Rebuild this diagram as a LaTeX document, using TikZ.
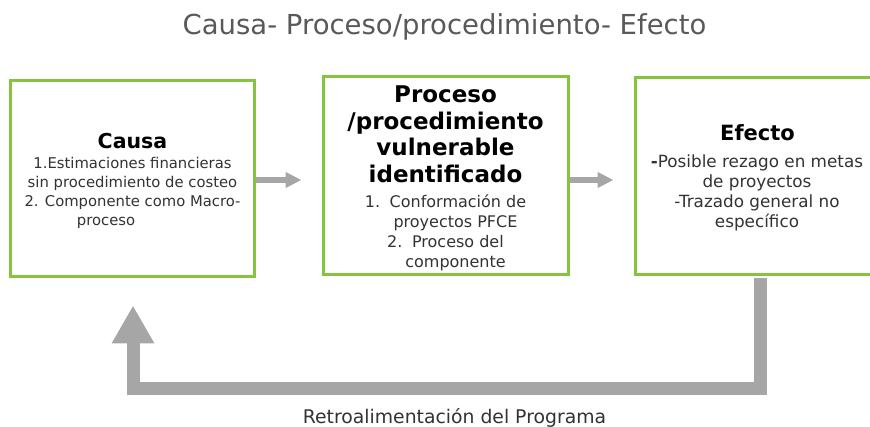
\documentclass[tikz,border=0pt]{standalone}
\usepackage{fontspec}
\setmainfont{DejaVu Sans}
\usetikzlibrary{arrows.meta}
\definecolor{boxgreen}{RGB}{134,196,64}
\definecolor{arrowgray}{RGB}{166,166,166}
\definecolor{titlegray}{RGB}{89,89,89}
\definecolor{bodygray}{RGB}{51,51,51}
\tikzset{
  stagebox/.style={draw=boxgreen, line width=3pt, fill=white, rectangle, inner sep=0pt},
  flow/.style={draw=arrowgray, line width=6pt, shorten >=20pt, -{Triangle[width=15pt,length=16pt]}},
  feedback/.style={draw=arrowgray, line width=13pt, line join=miter, -{Triangle[width=40pt,length=38pt]}},
  headtxt/.style={inner sep=0pt, text=black, align=center},
  bodytxt/.style={inner sep=0pt, text=bodygray, align=center},
}
\begin{document}
\begin{tikzpicture}[x=1pt,y=-1pt]
\useasboundingbox (0,0) rectangle (870,427);
% title
\node[anchor=base, inner sep=0pt, text=titlegray, font=\fontsize{27.5}{32}\selectfont] (title) at (444.5,35) {Causa- Proceso/procedimiento- Efecto};
% boxes
\node[stagebox, minimum width=244pt, minimum height=196pt] (b1) at (132,179) {};
\node[stagebox, minimum width=245pt, minimum height=198pt] (b2) at (445.5,176) {};
\node[stagebox, minimum width=244pt, minimum height=197.5pt] (b3) at (757,176.25) {};
% box 1 text
\node[headtxt, anchor=base, font=\fontsize{20.5}{24}\selectfont\bfseries] (h1) at (132.5,149) {Causa};
\node[bodytxt, anchor=north, font=\fontsize{14.8}{19}\selectfont] (t1) at (132.5,157.5) {1.Estimaciones financieras\\ sin procedimiento de costeo\\ 2. Componente como Macro-\\ \makebox[111pt][l]{proceso}};
% box 2 text
\node[headtxt, anchor=north, font=\fontsize{23}{26.7}\selectfont\bfseries] (h2) at (445.5,85.5) {Proceso\\ /procedimiento\\ vulnerable\\ identificado};
\node[bodytxt, anchor=north, font=\fontsize{16}{20}\selectfont] (t2) at (445.5,195) {1.\hspace{0.6em}Conformación de\\ \hspace*{20pt}proyectos PFCE\\ 2.\hspace{0.6em}Proceso del\\ \hspace*{20pt}componente};
% box 3 text
\node[headtxt, anchor=base, font=\fontsize{21}{25}\selectfont\bfseries] (h3) at (757.5,140.5) {Efecto};
\node[bodytxt, anchor=north, font=\fontsize{16.8}{20}\selectfont] (t3) at (757,154.5) {\textbf{-}Posible rezago en metas\\ de proyectos\\ -Trazado general no\\ específico};
% forward arrows
\coordinate (a1s) at ([yshift=-1pt]b1.east);
\coordinate (a2s) at ([yshift=-4pt]b2.east);
\draw[flow] (a1s) -- (a1s -| b2.west);
\draw[flow] (a2s) -- (a2s -| b3.west);
% feedback loop
\coordinate (fbs) at ([xshift=3pt,yshift=-1.5pt]b3.south);
\coordinate (fbt) at ([xshift=1pt,yshift=-27pt]b1.south);
\coordinate (fbc) at (133,389);
\begin{scope}[on background layer/.try]
\end{scope}
\draw[feedback] (fbs) |- (fbc) -- (fbt);
\node[anchor=base, inner sep=0pt, text=bodygray, font=\fontsize{18.8}{22}\selectfont] (retro) at (454.5,423) {Retroalimentación del Programa};
\end{tikzpicture}
\end{document}
